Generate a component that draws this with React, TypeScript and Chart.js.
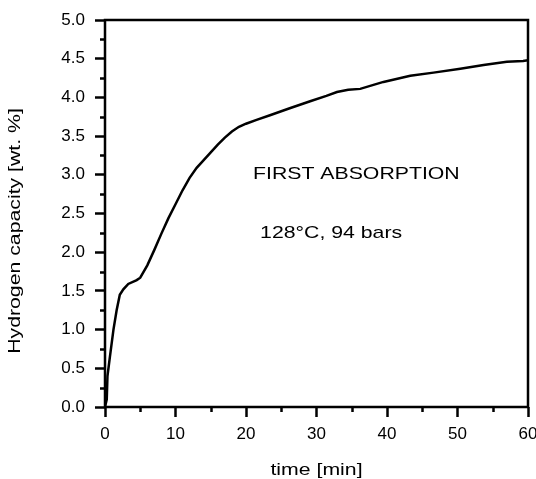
import React, { useEffect, useRef } from "react";
import { Chart, registerables } from "chart.js";

Chart.register(...registerables);

// ---- data ----
const timeMin = [
  0, 0.25, 0.35, 0.7, 1.2, 1.65, 2.1, 2.6, 3.3, 4.5, 5.0, 6.0, 7.0, 8.0, 9.0,
  10.0, 11.0, 12.0, 13.0, 14.0, 15.0, 16.0, 17.0, 18.0, 19.0, 20.0, 21.5, 23.4,
  26.2, 29.1, 31.4, 32.9, 34.5, 36.2, 39.5, 43.3, 46.6, 50.4, 53.7, 57.0, 59.3,
  60,
];
const capacity = [
  0, 0.1, 0.4, 0.65, 1.0, 1.25, 1.45, 1.52, 1.59, 1.64, 1.67, 1.83, 2.03, 2.24,
  2.44, 2.62, 2.8, 2.96, 3.09, 3.19, 3.29, 3.39, 3.48, 3.56, 3.62, 3.66, 3.71,
  3.77, 3.86, 3.95, 4.02, 4.07, 4.1, 4.11, 4.2, 4.28, 4.32, 4.37, 4.42, 4.46,
  4.47, 4.48,
];
const xMajorTicks = [0, 10, 20, 30, 40, 50, 60];
const xMinorTicks = [5, 15, 25, 35, 45, 55];
const yMajorTicks = [0, 0.5, 1.0, 1.5, 2.0, 2.5, 3.0, 3.5, 4.0, 4.5, 5.0];
const yMinorTicks = [0.25, 0.75, 1.25, 1.75, 2.25, 2.75, 3.25, 3.75, 4.25, 4.75];
const xTitle = "time [min]";
const yTitle = "Hydrogen capacity [wt. %]";
const annotationTitle = "FIRST ABSORPTION";
const annotationConditions = "128°C, 94 bars";
// anchor points (data coordinates) for the annotations
const annotationTitleAt = { x: 21.0, y: 2.95 };
const annotationConditionsAt = { x: 22.0, y: 2.18 };

const FONT = "'Liberation Sans', Arial, Helvetica, sans-serif";
const STRETCH = 1.25;

const framePlugin = {
  id: "frameAndText",
  afterDraw(chart: any) {
    const { ctx, chartArea } = chart;
    const xs = chart.scales.x;
    const ys = chart.scales.y;
    ctx.save();
    ctx.strokeStyle = "#000";
    ctx.lineWidth = 2.5;
    ctx.strokeRect(
      chartArea.left,
      chartArea.top,
      chartArea.right - chartArea.left,
      chartArea.bottom - chartArea.top
    );
    // minor ticks
    ctx.beginPath();
    for (const v of xMinorTicks) {
      const px = Math.round(xs.getPixelForValue(v)) + 0.5;
      ctx.moveTo(px, chartArea.bottom);
      ctx.lineTo(px, chartArea.bottom + 5);
    }
    for (const v of yMinorTicks) {
      const py = Math.round(ys.getPixelForValue(v)) + 0.5;
      ctx.moveTo(chartArea.left, py);
      ctx.lineTo(chartArea.left - 5, py);
    }
    ctx.stroke();

    ctx.fillStyle = "#000";
    ctx.font = `17px ${FONT}`;
    // x title
    ctx.save();
    ctx.translate((chartArea.left + chartArea.right) / 2, 475);
    ctx.scale(STRETCH, 1);
    ctx.textAlign = "center";
    ctx.textBaseline = "alphabetic";
    ctx.fillText(xTitle, 0, 0);
    ctx.restore();
    // y title
    ctx.save();
    ctx.translate(20, 231);
    ctx.rotate(-Math.PI / 2);
    ctx.scale(STRETCH, 1);
    ctx.textAlign = "center";
    ctx.textBaseline = "alphabetic";
    ctx.fillText(yTitle, 0, 0);
    ctx.restore();
    // annotations
    const drawAnn = (text: string, at: { x: number; y: number }) => {
      ctx.save();
      ctx.translate(xs.getPixelForValue(at.x), ys.getPixelForValue(at.y));
      ctx.scale(STRETCH, 1);
      ctx.textAlign = "left";
      ctx.textBaseline = "alphabetic";
      ctx.fillText(text, 0, 0);
      ctx.restore();
    };
    drawAnn(annotationTitle, annotationTitleAt);
    drawAnn(annotationConditions, annotationConditionsAt);
    ctx.restore();
  },
};

export default function App() {
  const ref = useRef<HTMLCanvasElement>(null);
  useEffect(() => {
    if (!ref.current) return;
    const chart = new Chart(ref.current, {
      type: "line",
      data: {
        datasets: [
          {
            data: timeMin.map((t, i) => ({ x: t, y: capacity[i] })),
            borderColor: "#000",
            borderWidth: 2.5,
            pointRadius: 0,
            tension: 0,
            fill: false,
          },
        ],
      },
      options: {
        responsive: false,
        animation: false,
        events: [],
        layout: { padding: { left: 0, top: 20, right: 8, bottom: 0 } },
        plugins: { legend: { display: false }, tooltip: { enabled: false } },
        scales: {
          x: {
            type: "linear",
            min: 0,
            max: 60,
            afterBuildTicks: (s: any) => {
              s.ticks = xMajorTicks.map((v) => ({ value: v }));
            },
            afterFit: (s: any) => {
              s.height = 72;
              s.paddingLeft = 0;
              s.paddingRight = 0;
            },
            grid: {
              drawOnChartArea: false,
              drawTicks: true,
              tickLength: 10,
              tickWidth: 2.5,
              tickColor: "#000",
            },
            border: { display: false },
            ticks: {
              color: "#000",
              padding: 7,
              maxRotation: 0,
              font: { family: FONT, size: 17 },
              callback: (v: any) => String(v),
            },
          },
          y: {
            type: "linear",
            min: 0,
            max: 5,
            afterBuildTicks: (s: any) => {
              s.ticks = yMajorTicks.map((v) => ({ value: v }));
            },
            afterFit: (s: any) => {
              s.width = 105;
              s.paddingTop = 0;
              s.paddingBottom = 0;
            },
            grid: {
              drawOnChartArea: false,
              drawTicks: true,
              tickLength: 10,
              tickWidth: 2.5,
              tickColor: "#000",
            },
            border: { display: false },
            ticks: {
              color: "#000",
              padding: 10,
              font: { family: FONT, size: 17 },
              callback: (v: any) => Number(v).toFixed(1),
            },
          },
        },
      },
      plugins: [framePlugin],
    });
    return () => chart.destroy();
  }, []);
  return (
    <div
      style={{
        position: "absolute",
        left: 0,
        top: 0,
        width: 536,
        height: 479,
        background: "#fff",
      }}
    >
      <canvas ref={ref} width={536} height={479} style={{ display: "block" }} />
    </div>
  );
}
